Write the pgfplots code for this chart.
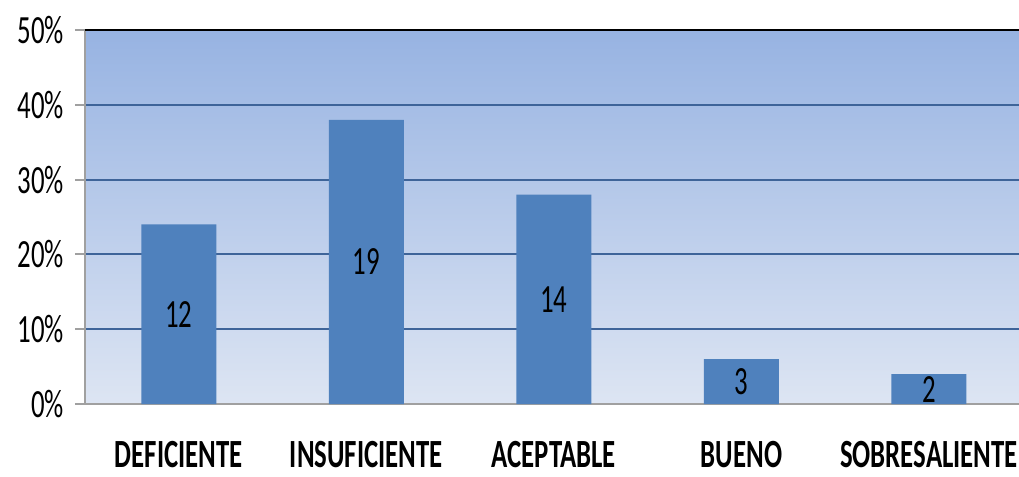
\documentclass[border=0pt]{standalone}
\usepackage{pgfplots}
\pgfplotsset{compat=1.18}
\usepackage{fontspec}
\setmainfont[FakeStretch=0.67]{Carlito}
\definecolor{bartop}{HTML}{97B3E2}
\definecolor{barbot}{HTML}{DDE5F3}
\definecolor{barc}{HTML}{4F81BD}
\definecolor{gridc}{HTML}{3E6499}
\definecolor{axc}{HTML}{A0A0A0}
\begin{document}
\begin{tikzpicture}[x=1pt,y=1pt]
\begin{axis}[
  at={(42.5pt,36.5pt)}, anchor=south west,
  scale only axis, width=467pt, height=187pt,
  xmin=-0.5, xmax=4.48, ymin=0, ymax=50,
  axis background/.style={top color=bartop, bottom color=barbot},
  axis x line*=bottom, axis y line*=left,
  axis line style={draw=axc, line width=1pt, -},
  ytick={0,10,20,30,40,50},
  yticklabels={0\%,10\%,20\%,30\%,40\%,50\%},
  ymajorgrids, major grid style={draw=gridc, line width=1pt},
  xtick={0,1,2,3,4},
  xticklabels={DEFICIENTE,INSUFICIENTE,ACEPTABLE,BUENO,SOBRESALIENTE},
  x tick label style={font=\fontsize{20}{20}\selectfont\bfseries, yshift=-10pt},
  y tick label style={font=\fontsize{20}{20}\selectfont, xshift=-2pt},
  xtick style={draw=none},
  ytick style={draw=axc, line width=1pt},
  tick align=outside, major tick length=5pt,
  extra x ticks={-0.5,0.5,1.5,2.5,3.5},
  extra x tick labels={},
  extra x tick style={tick style={draw=axc, line width=1pt}, major tick length=7pt, grid=none},
  ybar, bar width=0.4, clip=false,
  nodes near coords,
  point meta=explicit symbolic,
  visualization depends on={y/2 \as \halfy},
  every node near coord/.append style={font=\fontsize{20}{20}\selectfont, black, anchor=center,
     shift={(axis direction cs:0,-\halfy)}},
]
\addplot[fill=barc, draw=none] coordinates {(0,24)[12] (1,38)[19] (2,28)[14] (3,6)[3] (4,4)[2]};
\draw[black, line width=1pt] (rel axis cs:0,1) -- (rel axis cs:1,1);
\end{axis}
\pgfresetboundingbox
\path[use as bounding box] (0,0) rectangle (509.5pt,238.5pt);
\end{tikzpicture}
\end{document}
